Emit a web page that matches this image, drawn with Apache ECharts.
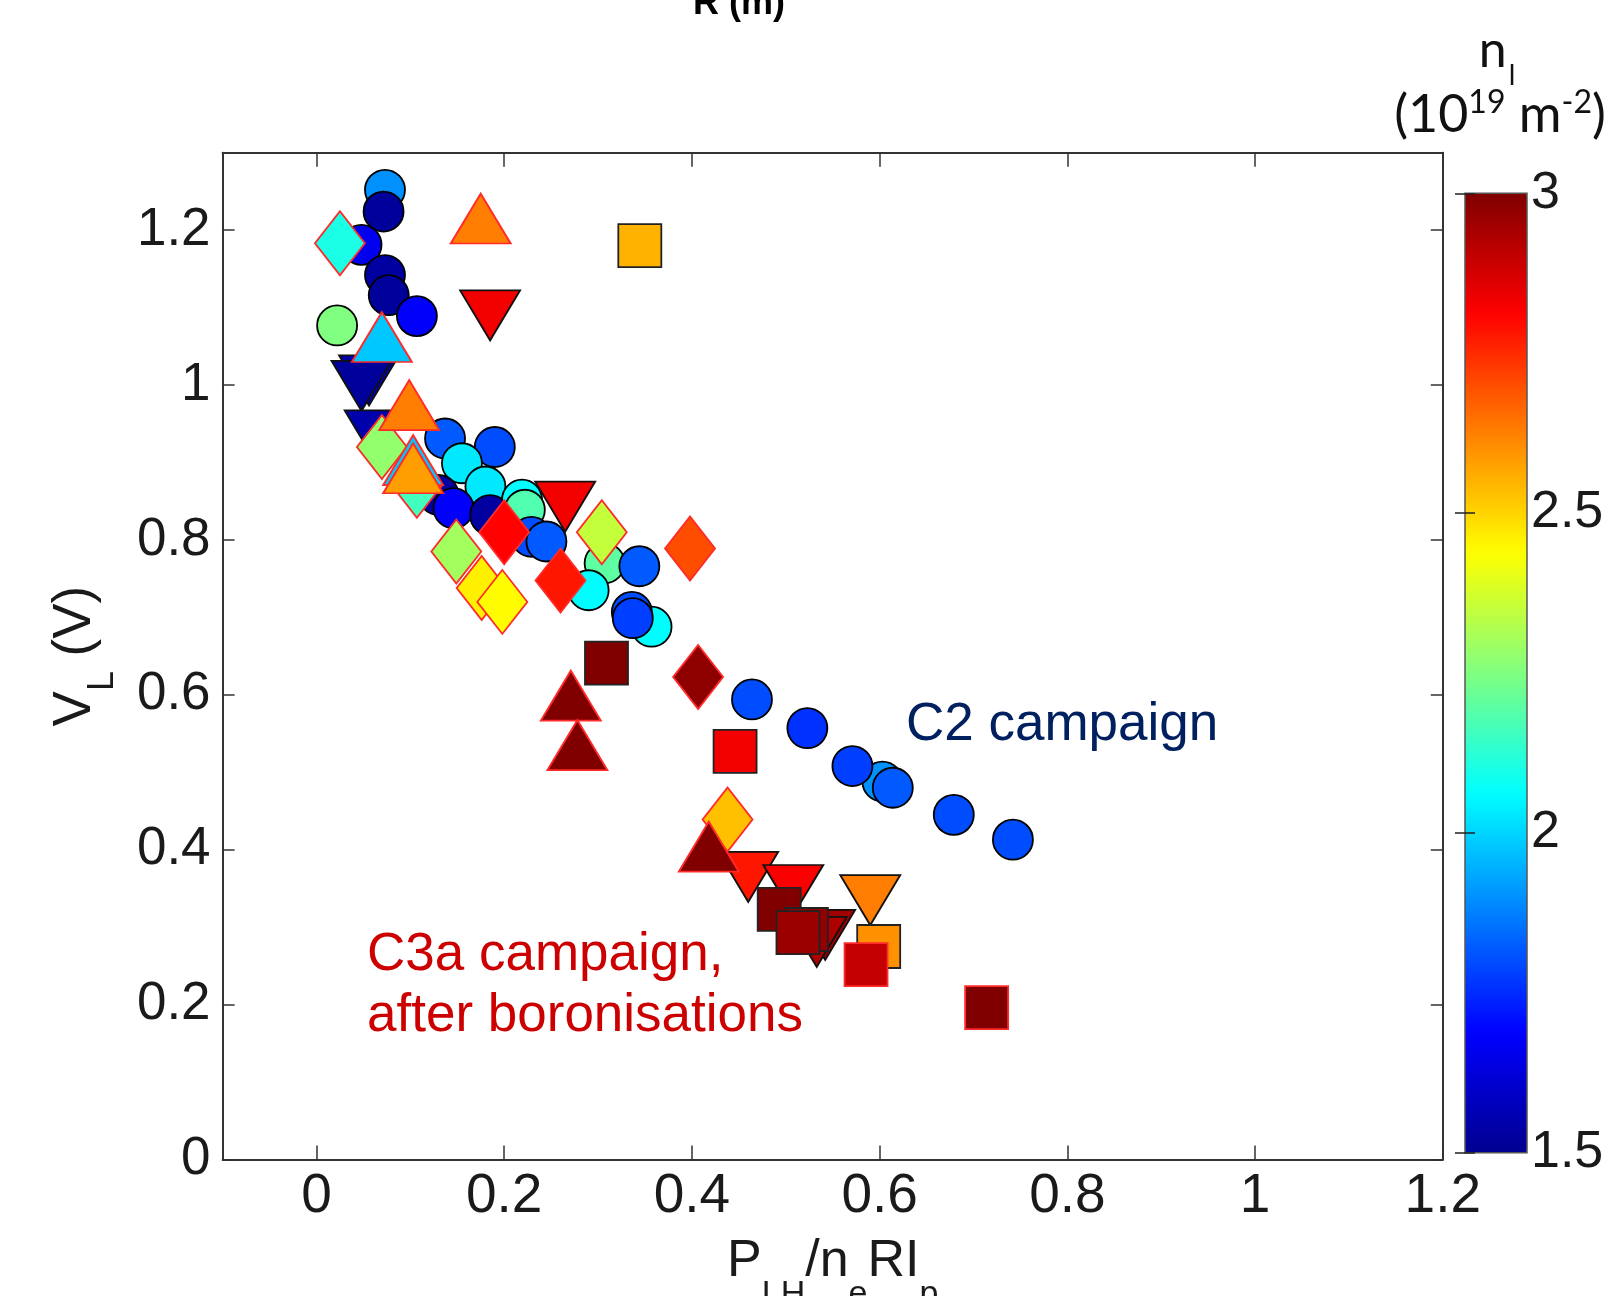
<!DOCTYPE html>
<html>
<head>
<meta charset="utf-8">
<script src="https://cdn.jsdelivr.net/npm/echarts@6/dist/echarts.min.js"></script>
<style>
html,body{margin:0;padding:0;background:#fff;}
#c{width:1616px;height:1296px;}
</style>
</head>
<body>
<div id="c"></div>
<script>
// ---------- data ----------
// tick values
const xTicks = [0, 0.2, 0.4, 0.6, 0.8, 1, 1.2];
const yTicks = [0, 0.2, 0.4, 0.6, 0.8, 1, 1.2];
const colorbarTicks = [1.5, 2, 2.5, 3];
// [P_LH/neRIp, V_L (V), n_l (1e19 m^-2)]
const circlesC2 = [
  [0.073, 1.252, 1.90], [0.0715, 1.224, 1.52], [0.048, 1.181, 1.66], [0.073, 1.142, 1.53],
  [0.077, 1.116, 1.52], [0.107, 1.089, 1.68], [0.022, 1.077, 2.25],
  [0.137, 0.931, 1.82], [0.190, 0.920, 1.80], [0.155, 0.899, 2.03], [0.180, 0.869, 2.03],
  [0.130, 0.858, 1.53], [0.146, 0.841, 1.68], [0.185, 0.832, 1.53],
  [0.219, 0.852, 2.06], [0.222, 0.839, 2.18], [0.229, 0.804, 1.80], [0.245, 0.798, 1.82],
  [0.307, 0.770, 2.20], [0.344, 0.766, 1.82], [0.290, 0.735, 2.06], [0.357, 0.688, 2.06],
  [0.336, 0.707, 1.80], [0.337, 0.699, 1.78],
  [0.464, 0.594, 1.80], [0.523, 0.557, 1.76], [0.603, 0.488, 1.90], [0.571, 0.508, 1.78],
  [0.614, 0.480, 1.82], [0.679, 0.445, 1.80], [0.742, 0.413, 1.80]
];
const trianglesDown = [
  [0.056, 1.006, 1.55], [0.048, 0.999, 1.52], [0.062, 0.935, 1.55], [0.185, 1.090, 2.83],
  [0.265, 0.843, 2.83], [0.460, 0.365, 2.78], [0.508, 0.348, 2.82], [0.542, 0.290, 2.95],
  [0.533, 0.281, 2.93], [0.590, 0.335, 2.63]
];
const diamonds = [
  [0.025, 1.183, 2.10], [0.0697, 0.920, 2.28], [0.107, 0.870, 2.16], [0.149, 0.785, 2.30],
  [0.176, 0.738, 2.46], [0.198, 0.720, 2.44], [0.200, 0.810, 2.81], [0.260, 0.7475, 2.78],
  [0.304, 0.810, 2.35], [0.398, 0.789, 2.70], [0.4066, 0.623, 2.98], [0.438, 0.439, 2.53]
];
const trianglesUp = [
  [0.175, 1.215, 2.63], [0.0697, 1.062, 1.98], [0.0988, 0.974, 2.63], [0.103, 0.903, 1.98],
  [0.103, 0.8925, 2.58], [0.271, 0.599, 3.00], [0.278, 0.535, 3.00], [0.418, 0.404, 3.00]
];
const squares = [
  [0.3445, 1.180, 2.55], [0.309, 0.641, 3.00], [0.446, 0.527, 2.83], [0.493, 0.323, 3.00],
  [0.522, 0.297, 2.97], [0.513, 0.293, 2.96], [0.599, 0.275, 2.60]
];
const squaresRedEdge = [
  [0.5855, 0.2516, 2.90], [0.714, 0.196, 3.00]
];

// ---------- chart ----------
const FONT = '"Liberation Sans", Arial, sans-serif';
const jet = ['#00008F', '#0000FF', '#0080FF', '#00FFFF', '#80FF80', '#FFFF00', '#FF8000', '#FF0000', '#800000'];
const fmt = v => String(Math.round(v * 10) / 10);
const frameLine = { color: '#333', width: 2 };
const tickLine = { color: '#333', width: 1.5 };

function scatter(data, symbol, size, border, rotate) {
  return {
    type: 'scatter', data: data, xAxisIndex: 0, yAxisIndex: 0,
    symbol: symbol, symbolSize: size, symbolRotate: rotate || 0,
    encode: { x: 0, y: 1 },
    itemStyle: { borderColor: border, borderWidth: 1.8, opacity: 1 },
    emphasis: { disabled: true }, z: 3
  };
}

const chart = echarts.init(document.getElementById('c'), null, { renderer: 'canvas', width: 1616, height: 1296 });

const option = {
  animation: false,
  backgroundColor: '#ffffff',
  grid: [
    { left: 222.6, right: 173.2, top: 152.7, bottom: 136.5, outerBoundsMode: 'none', containLabel: false },
    { left: 1465, width: 62, top: 193.3, height: 959.5, outerBoundsMode: 'none', containLabel: false,
      show: true, borderColor: '#555', borderWidth: 1.5, backgroundColor: 'transparent', z: 6 }
  ],
  xAxis: [
    {
      type: 'value', gridIndex: 0, position: 'bottom', min: -0.1, max: 1.2,
      axisLine: { show: true, onZero: false, lineStyle: frameLine },
      axisTick: { show: true, inside: true, length: 14, customValues: xTicks, lineStyle: tickLine },
      axisLabel: { show: true, customValues: xTicks, margin: 10, fontSize: 55, color: '#1a1a1a', fontFamily: FONT, formatter: fmt },
      splitLine: { show: false },
      name: '{m|P}{s|LH}{m|/n}{s|e}{m|RI}{s|p}',
      nameLocation: 'middle', nameGap: 76,
      nameTextStyle: {
        color: '#1a1a1a',
        rich: {
          m: { fontSize: 52, lineHeight: 60, fontFamily: FONT, color: '#1a1a1a', verticalAlign: 'top' },
          s: { fontSize: 34, lineHeight: 40, fontFamily: FONT, color: '#1a1a1a', verticalAlign: 'top', padding: [42, 0, 0, 0] }
        }
      }
    },
    {
      type: 'value', gridIndex: 0, position: 'top', min: -0.1, max: 1.2,
      axisLine: { show: true, onZero: false, lineStyle: frameLine },
      axisTick: { show: true, inside: true, length: 14, customValues: xTicks, lineStyle: tickLine },
      axisLabel: { show: false }, splitLine: { show: false }
    },
    { type: 'value', gridIndex: 1, show: false, min: 0, max: 1 }
  ],
  yAxis: [
    {
      type: 'value', gridIndex: 0, position: 'left', min: 0, max: 1.3,
      axisLine: { show: true, onZero: false, lineStyle: frameLine },
      axisTick: { show: true, inside: true, length: 12, customValues: yTicks, lineStyle: tickLine },
      axisLabel: { show: true, customValues: yTicks, margin: 12, fontSize: 53, color: '#1a1a1a', fontFamily: FONT, formatter: fmt },
      splitLine: { show: false },
      name: '{m|V}{s|L}{m| (V)}',
      nameLocation: 'middle', nameRotate: 90, nameGap: 114,
      nameTextStyle: {
        color: '#1a1a1a',
        rich: {
          m: { fontSize: 53, lineHeight: 60, fontFamily: FONT, color: '#1a1a1a', verticalAlign: 'top' },
          s: { fontSize: 36, lineHeight: 40, fontFamily: FONT, color: '#1a1a1a', verticalAlign: 'top', padding: [36, 0, 0, 0] }
        }
      }
    },
    {
      type: 'value', gridIndex: 0, position: 'right', min: 0, max: 1.3,
      axisLine: { show: true, onZero: false, lineStyle: frameLine },
      axisTick: { show: true, inside: true, length: 12, customValues: yTicks, lineStyle: tickLine },
      axisLabel: { show: false }, splitLine: { show: false }
    },
    {
      type: 'value', gridIndex: 1, position: 'right', min: 1.5, max: 3, z: 10,
      axisLine: { show: false },
      axisTick: { show: true, inside: true, length: 10, customValues: colorbarTicks, lineStyle: { color: '#222', width: 1.5 } },
      axisLabel: { show: true, customValues: colorbarTicks, margin: 4, fontSize: 52, color: '#1a1a1a', fontFamily: FONT, formatter: fmt },
      splitLine: { show: false }
    },
    {
      type: 'value', gridIndex: 1, position: 'left', min: 1.5, max: 3, z: 10,
      axisLine: { show: false },
      axisTick: { show: true, inside: true, length: 10, customValues: colorbarTicks, lineStyle: { color: '#222', width: 1.5 } },
      axisLabel: { show: false }, splitLine: { show: false }
    }
  ],
  visualMap: {
    type: 'continuous', min: 1.5, max: 3, dimension: 2, seriesIndex: [0, 1, 2, 3, 4, 5],
    inRange: { color: jet }, left: 1465, top: 193.3, itemWidth: 62, itemHeight: 959.5,
    padding: 0, calculable: false, text: null, showLabel: false, hoverLink: false, z: 1
  },
  series: [
    scatter(circlesC2, 'circle', 40, '#000'),
    scatter(trianglesDown, 'triangle', [60, 50], '#111', 180),
    scatter(diamonds, 'diamond', [50, 64], '#FF2a2a'),
    scatter(trianglesUp, 'triangle', [60, 50], '#FF2a2a'),
    scatter(squares, 'rect', 43, '#222'),
    scatter(squaresRedEdge, 'rect', 43, '#FF2a2a')
  ],
  graphic: [
    { type: 'text', x: 906, y: 725.5, z: 20, style: { text: 'C2 campaign', fill: '#002060', font: '53px ' + FONT, textVerticalAlign: 'middle' } },
    { type: 'text', x: 367, y: 955.5, z: 20, style: { text: 'C3a campaign,', fill: '#CC0000', font: '53px ' + FONT, textVerticalAlign: 'middle' } },
    { type: 'text', x: 367, y: 1016, z: 20, style: { text: 'after boronisations', fill: '#CC0000', font: '53px ' + FONT, textVerticalAlign: 'middle' } },
    { type: 'text', x: 739, y: 4, z: 20, style: { text: 'R (m)', fill: '#000', font: 'bold 36px ' + FONT, textAlign: 'center', textVerticalAlign: 'middle' } },
    { type: 'text', x: 1497, y: 26, z: 20, style: {
        text: '{a|n}{b|l}', textAlign: 'center', textVerticalAlign: 'top',
        rich: {
          a: { fontSize: 50, lineHeight: 54, fontFamily: 'Lato', fill: '#111', verticalAlign: 'top' },
          b: { fontSize: 28, lineHeight: 30, fontFamily: 'Lato', fill: '#111', verticalAlign: 'top', padding: [36, 0, 0, 2] }
        } } },
    { type: 'text', x: 1500, y: 85, z: 20, style: {
        text: '{m|(10}{s|19}{m| m}{s|-2}{m|)}', textAlign: 'center', textVerticalAlign: 'top',
        rich: {
          m: { fontSize: 52, lineHeight: 56, fontFamily: 'Lato', fill: '#111', verticalAlign: 'bottom' },
          s: { fontSize: 32, lineHeight: 34, fontFamily: 'Lato', fill: '#111', verticalAlign: 'bottom', padding: [0, 0, 22, 0] }
        } } }
  ]
};
chart.setOption(option);
</script>
</body>
</html>
